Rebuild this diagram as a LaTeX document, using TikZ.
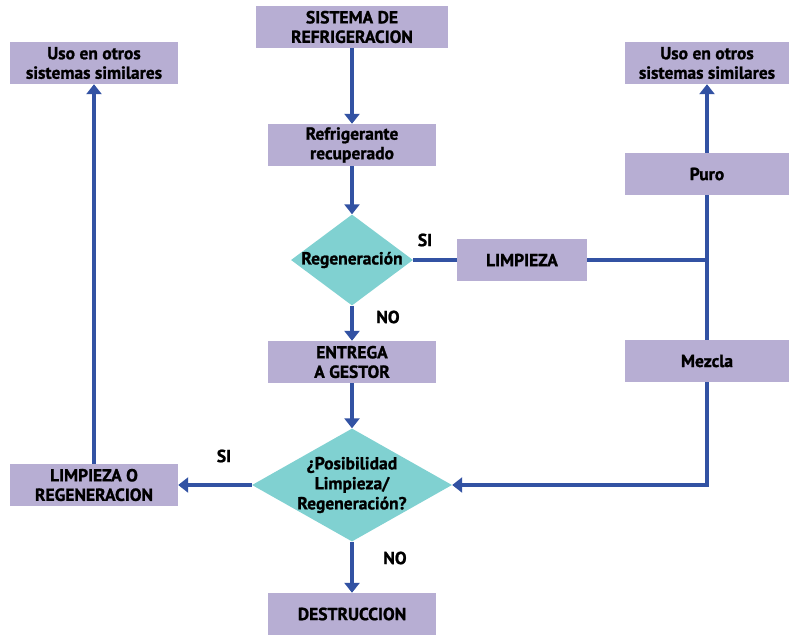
\documentclass[tikz,border=0pt]{standalone}
\usepackage{fontspec}
\setmainfont{PT Sans}[BoldFont={PT Sans Bold}, BoldFeatures={FakeBold=1.2}]
\usepackage{xcolor}
\usetikzlibrary{arrows.meta,positioning,shapes.geometric}

\definecolor{boxlila}{HTML}{B7AED3}
\definecolor{rombo}{HTML}{80D1D1}
\definecolor{flecha}{HTML}{3252A3}

\tikzset{
    caja/.style={fill=boxlila, minimum width=168pt, minimum height=42pt, inner sep=0pt,
        align=center, font=\fontsize{17.5}{19.5}\selectfont\bfseries},
    decision/.style={diamond, fill=rombo, inner sep=0pt},
    textorombo/.style={align=center, inner sep=0pt, font=\fontsize{17.5}{20}\selectfont\bfseries},
    flujo/.style={draw=flecha, line width=4pt},
    flujoarr/.style={flujo, -{Triangle[width=15pt,length=10pt]}},
    etiqueta/.style={font=\fontsize{17.5}{18}\selectfont\bfseries}
}

\begin{document}
\begin{tikzpicture}[x=1pt,y=-1pt]
\useasboundingbox (0,0) rectangle (789,635);

% columna central
\node[caja, minimum width=192pt] (sistema) at (352,27) {SISTEMA DE\\REFRIGERACION};
\node[caja] (recuperado) at (352,145) {Refrigerante\\recuperado};
\node[decision, minimum width=122pt, minimum height=91pt] (regen) at (352,260) {};
\node[textorombo] (regentxt) at (regen) {Regeneración};
\node[caja, minimum width=130pt] (limpieza) at (522,260) {LIMPIEZA};
\node[caja] (entrega) at (352,362) {ENTREGA\\A GESTOR};
\node[decision, minimum width=200pt, minimum height=113pt] (posible) at (352,485) {};
\node[textorombo] (posibletxt) at (posible) {¿Posibilidad\\Limpieza/\\Regeneración?};
\node[caja] (destruccion) at (352,614) {DESTRUCCION};

% columna izquierda
\node[caja] (limpregen) at (94,485) {LIMPIEZA O\\REGENERACION};
\node[caja] (usoizq) at (94,63) {Uso en otros\\sistemas similares};

% columna derecha
\node[caja, minimum width=165pt] (usoder) at (707,63) {Uso en otros\\sistemas similares};
\node[caja, minimum width=165pt] (puro) at (707,174) {Puro};
\node[caja, minimum width=165pt] (mezcla) at (707,361) {Mezcla};
\coordinate (union) at (707,260);

% etiquetas
\node[etiqueta] (si1) at (425,240) {SI};
\node[etiqueta] (no1) at (388,317) {NO};
\node[etiqueta] (si2) at (224,456) {SI};
\node[etiqueta] (no2) at (395,558) {NO};

% conexiones
\draw[flujoarr] (sistema) -- (recuperado);
\draw[flujoarr] (recuperado) -- (regen.north);
\draw[flujo] (regen.east) -- (limpieza.west);
\draw[flujoarr] (regen.south) -- (entrega.north);
\draw[flujoarr] (entrega) -- (posible.north);
\draw[flujoarr] (posible.west) -- (limpregen.east);
\draw[flujoarr] (posible.south) -- (destruccion.north);
\draw[flujoarr] (limpregen) -- (usoizq);
\draw[flujo] (limpieza.east) -- (union);
\draw[flujo] (puro) -- (mezcla);
\draw[flujoarr] (puro) -- (usoder);
\draw[flujoarr] (mezcla.south) |- (posible.east);
\end{tikzpicture}
\end{document}
